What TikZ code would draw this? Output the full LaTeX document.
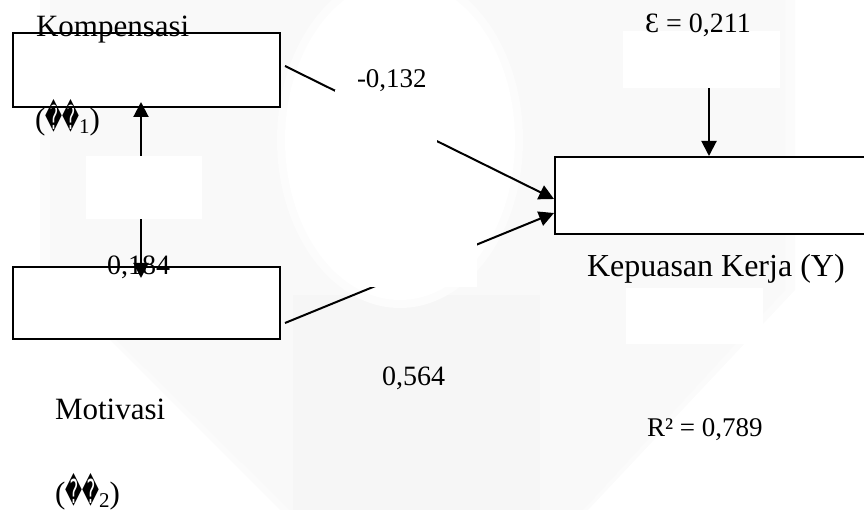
\documentclass[tikz,border=0pt]{standalone}
\usepackage{fontspec}
\setmainfont{Liberation Serif}
\newfontfamily\djv{DejaVu Sans}
\usetikzlibrary{arrows.meta}
\newcommand{\fs}[1]{\fontsize{#1}{#1}\selectfont}
\newcommand{\qm}{{\djv\fs{30}\scalebox{0.55}[1.1]{\char"FFFD}}}
\begin{document}
\begin{tikzpicture}[x=1pt,y=-1pt,
  box/.style={draw=black,line width=2pt,fill=white,inner sep=0pt,anchor=north west},
  cover/.style={fill=white,draw=none},
  conn/.style={line width=2pt,-{Triangle[length=15pt,width=15pt]}},
  conn2/.style={line width=2pt,{Triangle[length=15pt,width=15pt]}-{Triangle[length=15pt,width=15pt]}},
  txt/.style={anchor=base west,inner sep=0pt,outer sep=0pt,text=black}]
\useasboundingbox (0,0) rectangle (864,510);
% watermark background
\fill[gray!3] (40,0) -- (795,0) -- (795,290) -- (588,510) -- (280,510) -- (40,270) -- cycle;
\fill[gray!5] (50,0) -- (785,0) -- (785,290) -- (583,510) -- (290,510) -- (50,275) -- cycle;
\fill[gray!7] (293,295) rectangle (540,510);
\fill[gray!2] (400,140) ellipse [x radius=123pt, y radius=168pt];
\fill[white] (400,140) ellipse [x radius=115pt, y radius=160pt];
% boxes
\node[box,minimum width=267pt,minimum height=74pt] (K) at (12,32) {};
\node[box,minimum width=267pt,minimum height=72pt] (M) at (12,266) {};
\node[box,minimum width=312pt,minimum height=77pt] (Y) at (554,156) {};
% named free ends
\coordinate (kt) at (141,102);
\coordinate (mt) at (141,278);
\coordinate (eS) at (709,88);
% connectors
\draw[conn] ([shift={(4,-4)}]K.east) -- ([yshift=-3.5pt]Y.west);
\draw[conn] ([shift={(4,20)}]M.east) -- ([yshift=-17.5pt]Y.west);
\draw[conn2] (kt) -- (mt);
\draw[conn] (eS) -- (eS |- Y.north);
% white label covers
\fill[cover] (86,156) rectangle (202,219);
\fill[cover] (623,31) rectangle (780,88);
\fill[cover] (626,288) rectangle (763,344);
\fill[cover] (335,90) rectangle (437,200);
\fill[cover] (362,200) rectangle (477,287);
% texts
\node[txt] (tK) at (36,37) {\fs{31}Kompensasi};
\node[txt] (tX1) at (35,130) {\fs{31}(\qm\qm\raisebox{-4pt}{\fs{21}1})};
\node[txt] (tb1) at (357,88) {\fs{27}-0,132};
\node[txt] (tb3) at (107,275) {\fs{28}0,184};
\node[txt] (tM) at (55,419) {\fs{31}Motivasi};
\node[txt] (tX2) at (55,503) {\fs{31}(\qm\qm\raisebox{-4pt}{\fs{21}2})};
\node[txt] (tb2) at (382,385) {\fs{28}0,564};
\node[txt] (te) at (645,33) {\fs{28}Ɛ = 0,211};
\node[txt] (tY) at (587,277) {\fs{32}Kepuasan Kerja (Y)};
\node[txt] (tR) at (647,436) {\fs{27}R² = 0,789};
\end{tikzpicture}
\end{document}
